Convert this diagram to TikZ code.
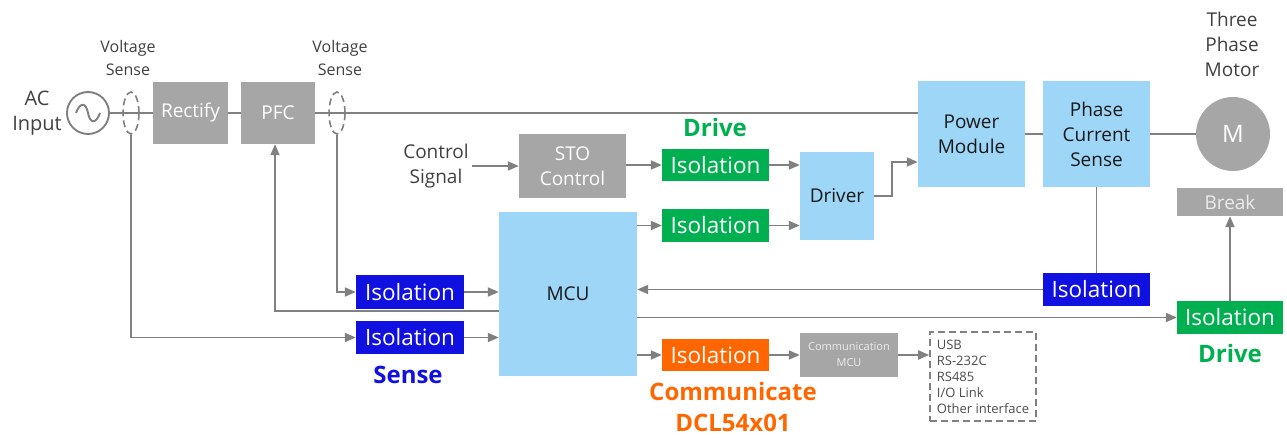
\documentclass[tikz,border=0pt]{standalone}
\usepackage{fontspec}
\setmainfont{Open Sans}
\usetikzlibrary{arrows.meta,shapes.geometric}

\definecolor{boxgray}{RGB}{166,166,166}
\definecolor{lightblue}{RGB}{158,214,248}
\definecolor{isogreen}{RGB}{0,176,80}
\definecolor{isoblue}{RGB}{16,16,224}
\definecolor{isoorange}{RGB}{255,102,0}
\definecolor{linegray}{RGB}{128,128,128}

\newcommand{\fsz}[2]{\fontsize{#1}{#2}\selectfont}

\begin{document}
\begin{tikzpicture}[x=1pt,y=-1pt,
	gbox/.style={rectangle,fill=boxgray,text=white,align=center,inner sep=0pt,font=\fsz{19}{25}},
	bbox/.style={rectangle,fill=lightblue,text=black!90,align=center,inner sep=0pt,font=\fsz{19}{25}},
	iso/.style={rectangle,text=white,inner sep=0pt,minimum width=107pt,minimum height=33pt,font=\fsz{22.5}{26}},
	lbl/.style={align=center,text=black!75,inner sep=0pt},
	vsense/.style={ellipse,draw=linegray,dash pattern=on 7pt off 4pt,line width=1.6pt,minimum width=16pt,minimum height=42pt,inner sep=0pt},
	line/.style={draw=linegray,line width=1.9pt},
	arr/.style={line,-{Triangle[length=11pt,width=9pt]}}]
	\useasboundingbox (0,0) rectangle (1287,438);
	% power path
	\node[lbl,font=\fsz{20}{25}] (acin) at (37,113) {AC\\Input};
	\node[circle,draw=linegray,line width=1.9pt,minimum size=42pt,inner sep=0pt] (src) at (88,113) {};
	\draw[linegray,line width=1.9pt] (76,113) .. controls (80,102) and (86,102) .. (88,113) .. controls (90,124) and (96,124) .. (100,113);
	\node[vsense] (vs1) at (131,113) {};
	\node[lbl,font=\fsz{16}{23}] (vs1lbl) at (128,58) {Voltage\\Sense};
	\node[gbox,minimum width=75pt,minimum height=62pt] (rect) at (190.5,113) {Rectify};
	\node[gbox,minimum width=74pt,minimum height=62pt] (pfc) at (278,113) {PFC};
	\node[vsense] (vs2) at (337,113) {};
	\node[lbl,font=\fsz{16}{23}] (vs2lbl) at (340,58) {Voltage\\Sense};
	\node[bbox,minimum width=107pt,minimum height=106pt] (pm) at (971.5,134) {Power\\Module};
	\node[bbox,minimum width=107pt,minimum height=106pt] (pcs) at (1096.5,134) {Phase\\Current\\Sense};
	\node[circle,fill=boxgray,text=white,minimum size=74pt,inner sep=0pt,font=\fsz{24}{26}] (mot) at (1233,134) {M};
	\node[lbl,font=\fsz{19}{25}] (motlbl) at (1232,44) {Three\\Phase\\Motor};
	\node[gbox,minimum width=106pt,minimum height=28pt,text=white!92!black] (brk) at (1230,202) {Break};
	% control path
	\node[lbl,font=\fsz{19}{25}] (ctrl) at (436,166) {Control\\Signal};
	\node[gbox,minimum width=107pt,minimum height=64pt] (sto) at (572.5,166) {STO\\Control};
	\node[iso,fill=isogreen,minimum height=32pt] (isod1) at (715.5,165) {Isolation};
	\node[text=isogreen,font=\bfseries\fsz{24}{26},inner sep=0pt] (drvlbl1) at (715,128) {Drive};
	\node[bbox,minimum width=74pt,minimum height=88pt] (drv) at (837,196) {Driver};
	\node[bbox,minimum width=138pt,minimum height=164pt] (mcu) at (568,294) {MCU};
	\node[iso,fill=isogreen] (isod2) at (715.5,225.5) {Isolation};
	\node[iso,fill=isoblue,minimum width=108pt,minimum height=34pt] (isos1) at (410,292) {Isolation};
	\node[iso,fill=isoblue,minimum width=108pt] (isos2) at (410,337.5) {Isolation};
	\node[text=isoblue,font=\bfseries\fsz{24}{26},inner sep=0pt] (senslbl) at (408,375) {Sense};
	\node[iso,fill=isoblue] (isocur) at (1096.5,289.5) {Isolation};
	\node[iso,fill=isogreen,minimum width=106pt] (isobrk) at (1230,317.5) {Isolation};
	\node[text=isogreen,font=\bfseries\fsz{24}{26},inner sep=0pt] (drvlbl2) at (1230,353) {Drive};
	\node[iso,fill=isoorange,minimum height=32pt] (isoc) at (715.5,355) {Isolation};
	\node[text=isoorange,font=\bfseries\fsz{24}{31},align=center,inner sep=0pt] (comlbl) at (733,407) {Communicate\\DCL54x01};
	\node[gbox,minimum width=98pt,minimum height=44pt,font=\fsz{11}{16},text=white!92!black] (cmcu) at (849,355) {Communication\\MCU};
	\node[rectangle,draw=linegray,dash pattern=on 7pt off 4pt,line width=1.6pt,minimum width=106pt,minimum height=89pt,align=left,text=black!70,font=\fsz{13}{16},inner xsep=5pt] (ifc) at (983,376.5) {USB\\RS-232C\\RS485\\I/O Link\\Other interface};
	% connections
	\draw[line] (src.east) -- (rect.west);
	\draw[line] (rect.east) -- (pfc.west);
	\draw[line] (pfc.east) -- (pfc.east -| pm.west);
	\draw[line] (pm.east) -- (pcs.west);
	\draw[line] (pcs.east) -- (mot.west);
	\draw[arr] (ctrl.east) ++(3,0) -- (sto.west);
	\draw[arr] (sto.east |- isod1.west) -- (isod1.west);
	\draw[arr] (isod1.east) -- (isod1.east -| drv.west);
	\draw[arr] (mcu.east |- isod2.west) -- (isod2.west);
	\draw[arr] (isod2.east) -- (isod2.east -| drv.west);
	\draw[arr] (drv.east) -- ++(18,0) |- ([yshift=-28pt]pm.west);
	\draw[arr] (vs2.south) |- (isos1.west);
	\draw[arr] (vs1.south) |- (isos2.west);
	\draw[arr] (isos1.east) -- (isos1.east -| mcu.west);
	\draw[arr] (isos2.east) -- (isos2.east -| mcu.west);
	\draw[arr] ([yshift=-17pt]mcu.west) -| ([xshift=-3pt]pfc.south);
	\draw[line] (pcs.south) -- (isocur.north);
	\draw[arr] (isocur.west) -- (isocur.west -| mcu.east);
	\draw[arr] (mcu.east |- isobrk.west) -- (isobrk.west);
	\draw[arr] (isobrk.north) -- (brk.south);
	\draw[arr] (mcu.east |- isoc.west) -- (isoc.west);
	\draw[arr] (isoc.east) -- (cmcu.west);
	\draw[arr] (cmcu.east) -- (cmcu.east -| ifc.west);
\end{tikzpicture}
\end{document}
